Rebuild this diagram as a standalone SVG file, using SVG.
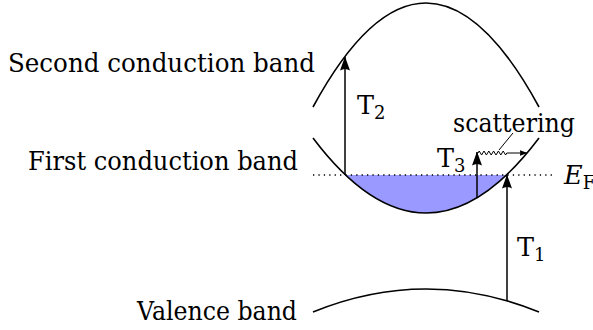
<svg xmlns="http://www.w3.org/2000/svg" width="593" height="330" viewBox="0 0 593 330">
<defs>
<style>
.band{fill:none;stroke:#000;stroke-width:1.6}
.arr{fill:none;stroke:#000;stroke-width:1.5}
.lbl{font-family:"DejaVu Serif","Liberation Serif",serif;font-size:25.5px;fill:#000}
.sub{font-size:18px}
</style>
<marker id="ah" viewBox="0 0 14 10" refX="13.5" refY="5" markerWidth="14" markerHeight="10" markerUnits="userSpaceOnUse" orient="auto">
<path d="M14,5 L0,0 Q3,5 0,10 Z" fill="#000"/>
</marker>
<marker id="ahs" viewBox="0 0 8 6" refX="7.5" refY="3" markerWidth="8" markerHeight="6" markerUnits="userSpaceOnUse" orient="auto">
<path d="M8,3 L0,0 Q1.5,3 0,6 Z" fill="#000"/>
</marker>
</defs>
<rect width="593" height="330" fill="#fff"/>
<g id="fermi-sea">
<path d="M345,175 Q426,251 507,175 Z" fill="#9999ff"/>
</g>
<g id="fermi-level">
<line x1="313" y1="175" x2="555" y2="175" stroke="#000" stroke-width="1.4" stroke-dasharray="1.3 4.1"/>
<text class="lbl" x="564" y="184" font-style="italic">E<tspan class="sub" font-style="normal" dy="5">F</tspan></text>
</g>
<g id="second-band">
<path class="band" d="M313,107 Q426,-101 539,107"/>
<text class="lbl" x="8" y="72" textLength="307" lengthAdjust="spacingAndGlyphs">Second conduction band</text>
</g>
<g id="first-band">
<path class="band" d="M313,138 Q426,288 539,138"/>
<text class="lbl" x="28" y="170" textLength="270" lengthAdjust="spacingAndGlyphs">First conduction band</text>
</g>
<g id="valence-band">
<path class="band" d="M313,312 Q426,266 539,312"/>
<text class="lbl" x="137" y="320" textLength="160" lengthAdjust="spacingAndGlyphs">Valence band</text>
</g>
<g id="connectors">
<line id="T2" class="arr" x1="345" y1="175" x2="345" y2="57" marker-end="url(#ah)"/>
<line id="T1" class="arr" x1="507" y1="301" x2="507" y2="175" marker-end="url(#ah)"/>
<line id="T3" class="arr" x1="477" y1="198" x2="477" y2="152" marker-end="url(#ah)"/>
<path id="scatter" d="M478,153 l1.2,-2 l2.4,4 l2.4,-4 l2.4,4 l2.4,-4 l2.4,4 l2.4,-4 l2.4,4 l2.4,-4 l2.4,4 l2.4,-4 l2.4,4 l1.2,-2 L527,153" fill="none" stroke="#000" stroke-width="1" marker-end="url(#ahs)"/>
<line id="scatter-pointer" x1="513" y1="133" x2="499" y2="150" stroke="#000" stroke-width="1"/>
</g>
<g id="labels">
<text class="lbl" x="357" y="114">T<tspan class="sub" dy="5">2</tspan></text>
<text class="lbl" x="517" y="256">T<tspan class="sub" dy="5">1</tspan></text>
<text class="lbl" x="437" y="167">T<tspan class="sub" dy="5">3</tspan></text>
<text class="lbl" x="453" y="132" textLength="122" lengthAdjust="spacingAndGlyphs">scattering</text>
</g>
</svg>
